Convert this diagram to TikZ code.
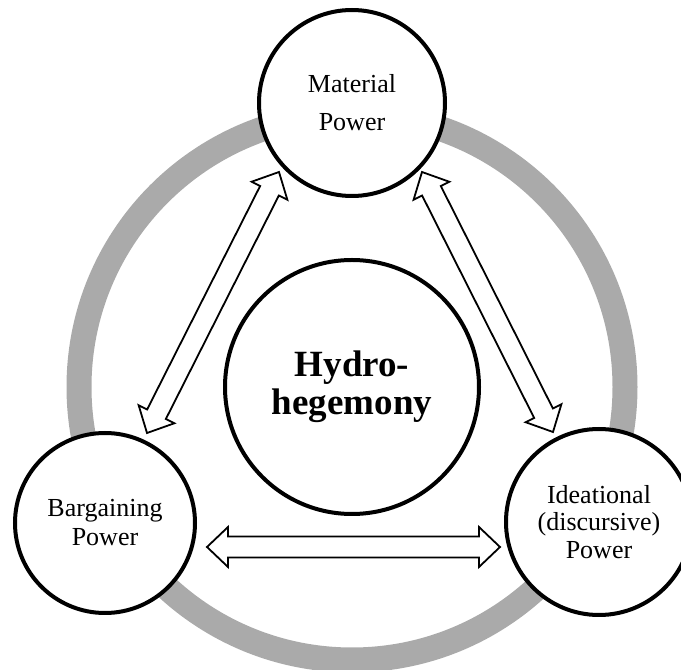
\documentclass[tikz,border=0pt]{standalone}
\usepackage{fontspec}
\setmainfont{Liberation Serif}
\usetikzlibrary{calc}
\definecolor{ringgray}{RGB}{170,170,170}

% outlined double-headed block arrow between two tip points
\newcommand\blockarrow[2]{%
  \draw[arrowbox] (#1)
    -- ($(#1)!21pt!(#2)!20pt!90:(#2)$)
    -- ($(#1)!21pt!(#2)!10.5pt!90:(#2)$)
    -- ($(#2)!21pt!(#1)!10.5pt!-90:(#1)$)
    -- ($(#2)!21pt!(#1)!20pt!-90:(#1)$)
    -- (#2)
    -- ($(#2)!21pt!(#1)!20pt!90:(#1)$)
    -- ($(#2)!21pt!(#1)!10.5pt!90:(#1)$)
    -- ($(#1)!21pt!(#2)!10.5pt!-90:(#2)$)
    -- ($(#1)!21pt!(#2)!20pt!-90:(#2)$)
    -- cycle;}

\begin{document}
\begin{tikzpicture}[x=1pt,y=1pt,
  powercircle/.style={circle, draw=black, line width=4pt, fill=white,
    inner sep=0pt, align=center},
  arrowbox/.style={draw=black, line width=1.8pt, fill=white, line join=miter}]
\useasboundingbox (0,0) rectangle (681,670);

% central concept
\coordinate (c) at (352,283);
\draw[ringgray, line width=25pt] (c) circle[radius=273pt];
\node[powercircle, minimum size=254pt,
  font=\bfseries\fontsize{37}{38}\selectfont] (hyd) at (c) {Hydro-\\hegemony};

% the three forms of power
\node[powercircle, minimum size=186pt,
  font=\fontsize{26}{38}\selectfont] (mat) at (352,567) {Material\\Power};
\node[powercircle, minimum size=180pt,
  font=\fontsize{26}{29}\selectfont] (bar) at (105,147) {Bargaining\\Power};
\node[powercircle, minimum size=186pt,
  font=\fontsize{26}{27.5}\selectfont] (ide) at (599,148) {Ideational\\(discursive)\\Power};

% arrow tips just outside the circles
\coordinate (matL) at ($(mat)+(-73,-69)$);
\coordinate (matR) at ($(mat)+(70,-69)$);
\coordinate (barT) at ($(bar)+(42,90)$);
\coordinate (barR) at ($(bar)+(102,-24)$);
\coordinate (ideT) at ($(ide)+(-46,90)$);
\coordinate (ideL) at ($(ide)+(-99,-25)$);

\blockarrow{matL}{barT}
\blockarrow{matR}{ideT}
\blockarrow{barR}{ideL}
\end{tikzpicture}
\end{document}
